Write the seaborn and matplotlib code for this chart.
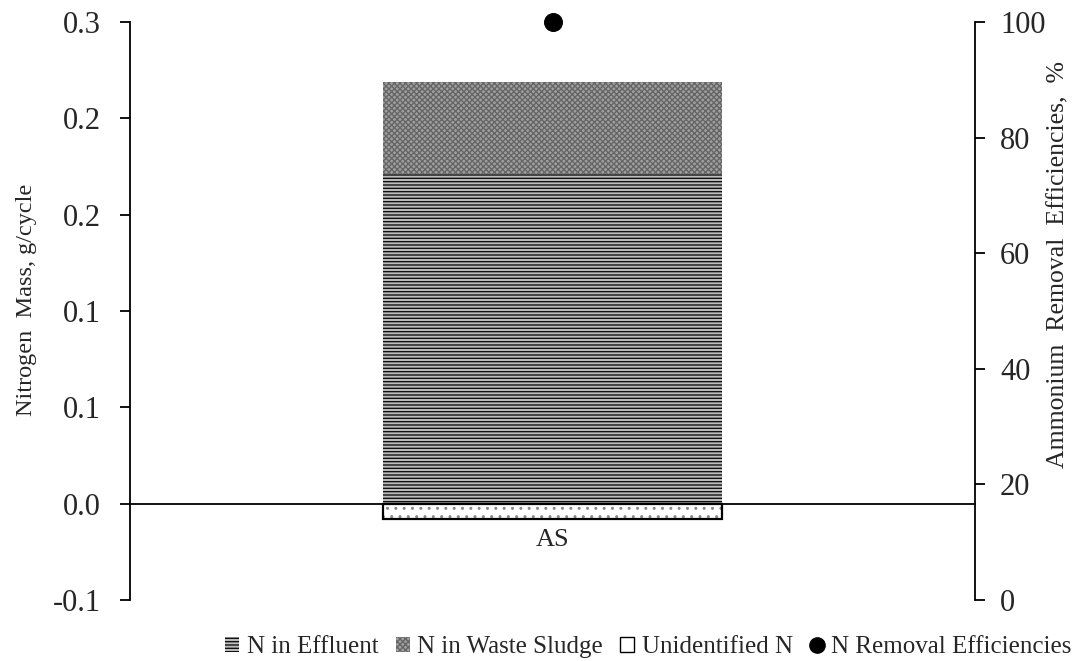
import matplotlib
matplotlib.use("Agg")
import matplotlib.pyplot as plt
import seaborn as sns
import pandas as pd
from matplotlib.patches import Patch
from matplotlib.lines import Line2D

# ---- data ----
categories = ["AS"]
n_effluent = [0.171]
n_sludge = [0.048]
n_unidentified = [-0.008]
removal_eff = [100.0]

left_ticks = [-0.05, 0.0, 0.05, 0.10, 0.15, 0.20, 0.25]
left_tick_labels = ["-0.1", "0.0", "0.1", "0.1", "0.2", "0.2", "0.3"]
right_ticks = [0, 20, 40, 60, 80, 100]

series_names = ["N in Effluent", "N in Waste Sludge", "Unidentified N", "N Removal Efficiencies"]
left_label = "Nitrogen  Mass, g/cycle"
right_label = "Ammonium  Removal  Efficiencies,  %"

sns.set_theme(style="white")
plt.rcParams["font.family"] = ["Liberation Serif", "DejaVu Serif"]
plt.rcParams["hatch.linewidth"] = 1.0
FS_TICK = 22
FS_LLAB = 17.5
FS_RLAB = 18.5
FS_LEG = 18
FS_CAT = 19

EFF_FACE, EFF_HATCH = "#bdbdbd", "#111111"
SLU_FACE, SLU_HATCH = "#a0a0a0", "#666666"

fig = plt.figure(figsize=(10.81, 6.61), dpi=100)
ax = fig.add_axes([0.1203, 0.0923, 0.7817, 0.8744])

top_total = [e + s for e, s in zip(n_effluent, n_sludge)]
df_top = pd.DataFrame({"cat": categories, "val": top_total})
df_eff = pd.DataFrame({"cat": categories, "val": n_effluent})
df_un = pd.DataFrame({"cat": categories, "val": n_unidentified})

W = 0.402
sns.barplot(data=df_top, x="cat", y="val", ax=ax, width=W, color=SLU_FACE,
            saturation=1, linewidth=0, hatch="xxxxxx", edgecolor=SLU_HATCH)
sns.barplot(data=df_eff, x="cat", y="val", ax=ax, width=W, color=EFF_FACE,
            saturation=1, linewidth=0, hatch="-----", edgecolor=EFF_HATCH)
sns.barplot(data=df_un, x="cat", y="val", ax=ax, width=W, color="white",
            saturation=1, linewidth=0, hatch="..", edgecolor="#8a8a8a")
sns.barplot(data=df_un, x="cat", y="val", ax=ax, width=W, fill=False,
            linewidth=1.6, edgecolor="black")

ax.set_xlim(-0.5, 0.5)
ax.set_ylim(-0.05, 0.25)
ax.set_yticks(left_ticks)
ax.set_yticklabels(left_tick_labels, fontsize=FS_TICK)
ax.set_xlabel("")
ax.set_ylabel(left_label, fontsize=FS_LLAB)
ax.yaxis.set_label_coords(-0.110, 0.52)
for s in ["top", "right"]:
    ax.spines[s].set_visible(False)
ax.spines["left"].set_color("black")
ax.spines["left"].set_linewidth(1.3)
ax.spines["bottom"].set_position(("data", 0))
ax.spines["bottom"].set_color("black")
ax.spines["bottom"].set_linewidth(1.3)
ax.tick_params(axis="y", which="both", left=True, direction="out", length=7,
               width=1.3, color="black", pad=14)
ax.tick_params(axis="x", length=0, labelsize=FS_CAT, pad=18)
ax.grid(False)

ax2 = ax.twinx()
sns.scatterplot(x=[0], y=removal_eff, ax=ax2, color="black", s=160,
                edgecolor="black", zorder=5, legend=False, clip_on=False)
ax2.set_ylim(0, 100)
ax2.set_yticks(right_ticks)
ax2.set_yticklabels([str(t) for t in right_ticks], fontsize=FS_TICK)
ax2.set_ylabel(right_label, fontsize=FS_RLAB)
ax2.yaxis.set_label_coords(1.086, 0.58)
for s in ["top", "left", "bottom"]:
    ax2.spines[s].set_visible(False)
ax2.spines["right"].set_color("black")
ax2.spines["right"].set_linewidth(1.3)
ax2.tick_params(axis="y", right=True, direction="out", length=7, width=1.3,
                color="black", pad=11)
ax2.grid(False)
ax2.set_xlim(-0.5, 0.5)

handles = [
    Patch(facecolor=EFF_FACE, edgecolor=EFF_HATCH, hatch="-----", linewidth=0),
    Patch(facecolor=SLU_FACE, edgecolor=SLU_HATCH, hatch="xxxxxx", linewidth=0),
    Patch(facecolor="white", edgecolor="black", linewidth=1.0),
    Line2D([], [], marker="o", color="black", linestyle="none", markersize=11),
]
fig.legend(handles, series_names, loc="lower center", ncol=4, frameon=False,
           fontsize=FS_LEG, bbox_to_anchor=(0.60, -0.022), handlelength=0.55,
           handleheight=0.55, handletextpad=0.3, columnspacing=0.7,
           borderaxespad=0.3)

fig.savefig("out.png", dpi=100)
